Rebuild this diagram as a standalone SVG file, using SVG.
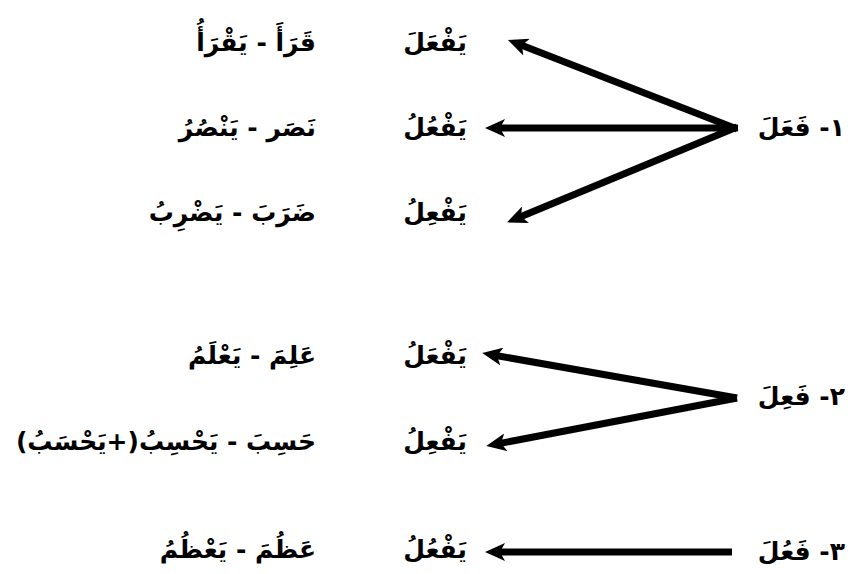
<svg xmlns="http://www.w3.org/2000/svg" width="854" height="574" viewBox="0 0 854 574">
<defs>
<marker id="ah" viewBox="0 0 20 18" refX="6" refY="9" markerWidth="20" markerHeight="18" markerUnits="userSpaceOnUse" orient="auto">
<path d="M0,0 L20,9 L0,18 L5,9 Z" fill="#000"/>
</marker>
<style>
text{font-family:"DejaVu Sans","Noto Sans",sans-serif;font-size:25px;fill:#000;direction:rtl;unicode-bidi:embed;text-anchor:start;font-weight:bold}
.c{stroke:#000;stroke-width:7;fill:none;marker-end:url(#ah);stroke-linecap:butt;stroke-linejoin:miter}
</style>
</defs>
<rect width="854" height="574" fill="#fff"/>
<g id="connectors">
<line class="c" x1="737" y1="129" x2="521" y2="45"/>
<line class="c" x1="738" y1="128" x2="499" y2="128"/>
<line class="c" x1="737" y1="127" x2="520" y2="217"/>
<line class="c" x1="737" y1="398" x2="496" y2="355.5"/>
<line class="c" x1="737" y1="398" x2="500" y2="443.4"/>
<line class="c" x1="732" y1="552" x2="499" y2="552"/>
</g>
<g id="n1"><text x="845" y="136">١- فَعَلَ</text></g>
<g id="n2"><text x="845" y="405">٢- فَعِلَ</text></g>
<g id="n3"><text x="845" y="560">٣- فَعُلَ</text></g>
<g id="r1m"><text x="467" y="51">يَفْعَلَ</text></g>
<g id="r2m"><text x="467" y="136">يَفْعُلُ</text></g>
<g id="r3m"><text x="467" y="221">يَفْعِلُ</text></g>
<g id="r4m"><text x="467" y="364">يَفْعَلُ</text></g>
<g id="r5m"><text x="467" y="450">يَفْعِلُ</text></g>
<g id="r6m"><text x="467" y="558">يَفْعُلُ</text></g>
<g id="r1l"><text x="316" y="51">قَرَأَ - يَقْرَأُ</text></g>
<g id="r2l"><text x="316" y="136">نَصَر - يَنْصُرُ</text></g>
<g id="r3l"><text x="316" y="221">ضَرَبَ - يَضْرِبُ</text></g>
<g id="r4l"><text x="316" y="364">عَلِمَ - يَعْلَمُ</text></g>
<g id="r5l"><text x="316" y="450">حَسِبَ - يَحْسِبُ(+يَحْسَبُ)</text></g>
<g id="r6l"><text x="316" y="558">عَظُمَ - يَعْظُمُ</text></g>
</svg>
